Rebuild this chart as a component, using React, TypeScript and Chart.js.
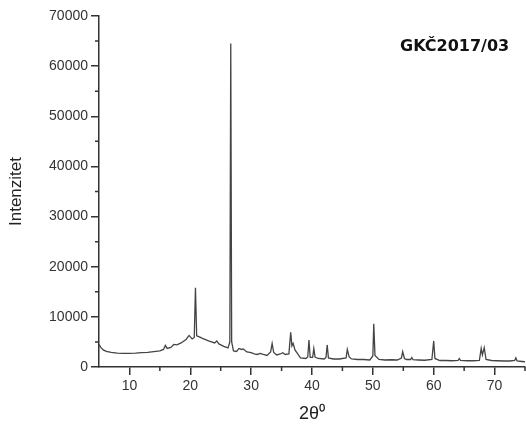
import { useEffect, useRef } from "react";
import { Chart, registerables } from "chart.js";

Chart.register(...registerables);

const twoTheta = [
  5.0, 5.3, 5.7, 6.2, 7.0, 8.0, 9.0, 10.0, 11.0, 12.0, 13.0, 14.0, 15.0, 15.6, 15.9, 16.2, 16.8, 17.3, 17.8, 18.5,
  19.3, 19.8, 20.3, 20.65, 20.85, 21.05, 21.5, 22.0, 23.0, 24.0, 24.35, 24.7, 25.5, 26.2, 26.5, 26.65, 26.8, 27.1,
  27.6, 28.0, 28.4, 28.7, 29.3, 30.0, 30.5, 31.0, 31.5, 32.0, 32.6, 33.2, 33.45, 33.7, 34.2, 34.8, 35.2, 35.6, 36.2,
  36.5, 36.7, 36.9, 37.2, 37.6, 38.1, 39.0, 39.3, 39.5, 39.7, 40.1, 40.3, 40.5, 41.0, 42.0, 42.3, 42.5, 42.7, 43.5,
  44.5, 45.6, 45.8, 46.1, 46.5, 47.5, 48.5, 49.5, 50.0, 50.15, 50.35, 51.0, 52.0, 53.0, 54.0, 54.7, 54.9, 55.2, 55.5,
  56.2, 56.4, 56.6, 57.5, 58.5, 59.7, 60.0, 60.2, 61.0, 62.0, 63.0, 64.0, 64.2, 64.4, 65.5, 66.5, 67.5, 67.8, 68.0,
  68.3, 68.6, 69.5, 70.5, 71.5, 72.5, 73.3, 73.5, 73.7, 74.5, 75.0,
];

const intensity = [
  4500, 3900, 3400, 3100, 2900, 2750, 2700, 2700, 2750, 2850, 2900, 3050, 3200, 3500, 4300, 3700, 3900, 4500, 4400, 4800,
  5500, 6300, 5600, 5900, 15800, 6200, 6000, 5700, 5200, 4800, 5200, 4600, 4100, 3800, 5000, 64500, 5000, 3200,
  3100, 3700, 3500, 3600, 3000, 2850, 2600, 2500, 2700, 2500, 2300, 3000, 4700, 2900, 2400, 2600, 2850, 2500, 2600,
  6900, 4200, 4700, 3400, 2700, 1800, 1700, 2000, 5400, 1900, 1900, 3700, 2000, 1700, 1600, 1900, 4400, 1800, 1600,
  1600, 1800, 3500, 2000, 1600, 1500, 1500, 1400, 2200, 8600, 2300, 1500, 1400, 1450, 1400, 1800, 3050, 1700, 1500,
  1500, 1900, 1450, 1400, 1350, 1500, 5200, 1700, 1300, 1300, 1250, 1300, 1700, 1300, 1250, 1250, 1300, 3700, 2400,
  3850, 1500, 1300, 1250, 1200, 1200, 1300, 1800, 1200, 1100, 1050,
];

const xTicks = [10, 20, 30, 40, 50, 60, 70];
const xMinorTicks = [15, 25, 35, 45, 55, 65, 75];
const yTicks = [0, 10000, 20000, 30000, 40000, 50000, 60000, 70000];
const yMinorTicks = [5000, 15000, 25000, 35000, 45000, 55000, 65000];

const sampleLabel = "GKČ2017/03";
const xTitle = "2θ⁰";
const yTitle = "Intenzitet";

const AXIS = "#333333";
const SANS = "'Liberation Sans', Arial, sans-serif";

export default function App() {
  const ref = useRef<HTMLCanvasElement | null>(null);

  useEffect(() => {
    document.body.style.margin = "0";
    const canvas = ref.current;
    if (!canvas) return;

    const extras = {
      id: "extras",
      afterDraw(chart: any) {
        const ctx = chart.ctx;
        const xs = chart.scales.x;
        const ys = chart.scales.y;
        const area = chart.chartArea;
        ctx.save();
        ctx.strokeStyle = AXIS;
        ctx.lineWidth = 1.5;
        ctx.beginPath();
        for (const v of xMinorTicks) {
          const px = xs.getPixelForValue(v);
          ctx.moveTo(px, area.bottom);
          ctx.lineTo(px, area.bottom + 4);
        }
        for (const v of yMinorTicks) {
          const py = ys.getPixelForValue(v);
          ctx.moveTo(area.left, py);
          ctx.lineTo(area.left - 4, py);
        }
        ctx.stroke();
        ctx.fillStyle = "#111111";
        ctx.font = "bold 16px 'DejaVu Sans', Verdana, sans-serif";
        ctx.textBaseline = "alphabetic";
        ctx.textAlign = "left";
        ctx.fillText(sampleLabel, 400, 51);
        ctx.restore();
      },
    };

    const chart = new Chart(canvas, {
      type: "line",
      data: {
        datasets: [
          {
            data: twoTheta.map((x, i) => ({ x, y: intensity[i] })),
            borderColor: "#444444",
            borderWidth: 1.3,
            pointRadius: 0,
            tension: 0,
            fill: false,
          },
        ],
      },
      options: {
        responsive: false,
        animation: false,
        devicePixelRatio: 1,
        layout: { padding: { top: 16, right: 1, left: 0, bottom: 0 } },
        plugins: { legend: { display: false }, tooltip: { enabled: false } },
        scales: {
          x: {
            type: "linear",
            min: 5,
            max: 75,
            afterBuildTicks: (s: any) => {
              s.ticks = xTicks.map((value) => ({ value }));
            },
            afterFit: (s: any) => {
              s.height = 63;
            },
            ticks: {
              color: AXIS,
              font: { family: SANS, size: 14 },
              padding: 3,
              autoSkip: false,
              maxRotation: 0,
              callback: (v: any) => String(v),
            },
            grid: { drawOnChartArea: false, drawTicks: true, tickLength: 8, color: AXIS, lineWidth: 1.5 },
            border: { display: true, color: AXIS, width: 1.5 },
            title: {
              display: true,
              text: xTitle,
              color: "#222222",
              font: { family: SANS, size: 18 },
              padding: { top: 0, bottom: 5 },
            },
          },
          y: {
            type: "linear",
            min: 0,
            max: 70000,
            afterBuildTicks: (s: any) => {
              s.ticks = yTicks.map((value) => ({ value }));
            },
            afterFit: (s: any) => {
              s.width = 99;
            },
            ticks: {
              color: AXIS,
              font: { family: SANS, size: 14 },
              padding: 3,
              autoSkip: false,
              callback: (v: any) => String(v),
            },
            grid: { drawOnChartArea: false, drawTicks: true, tickLength: 8, color: AXIS, lineWidth: 1.5 },
            border: { display: true, color: AXIS, width: 1.5 },
            title: {
              display: true,
              text: yTitle,
              color: "#222222",
              font: { family: SANS, size: 17 },
              padding: { top: 6, bottom: 0 },
            },
          },
        },
      },
      plugins: [extras],
    });

    return () => chart.destroy();
  }, []);

  return (
    <div style={{ position: "absolute", left: 0, top: 0, width: 526, height: 430, background: "#ffffff" }}>
      <canvas ref={ref} width={526} height={430} />
    </div>
  );
}
